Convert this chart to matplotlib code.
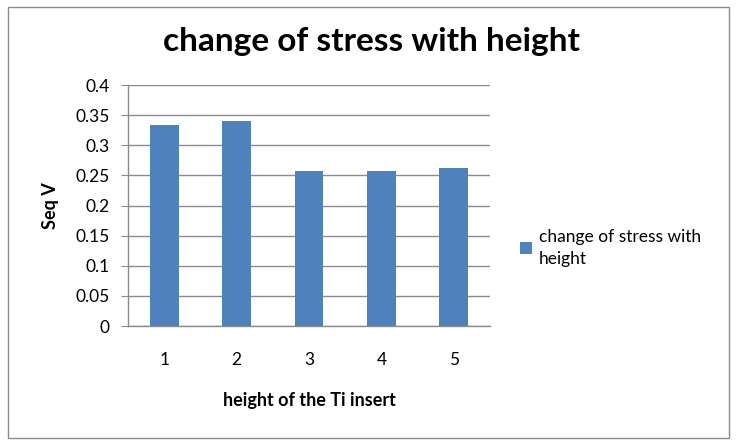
import numpy as np
import matplotlib
matplotlib.use("Agg")
import matplotlib.pyplot as plt
from matplotlib.patches import Rectangle

plt.rcParams['font.family'] = ['Lato', 'DejaVu Sans']

# data
categories = ['1', '2', '3', '4', '5']
seq_v = [0.334, 0.340, 0.258, 0.258, 0.263]
series_name = 'change of stress with height'

fig = plt.figure(figsize=(7.37, 4.44), dpi=100)
# axes placed to match the reference plot area (pixels)
ax = fig.add_axes([128 / 737, 1 - 326 / 444, (490 - 128) / 737, (326 - 85) / 444])

ind = np.arange(len(categories))
bars = ax.bar(ind, seq_v, 0.4, color='#4f81bd', zorder=3, label=series_name)

ax.set_xlim(-0.5, len(categories) - 0.5)
ax.set_ylim(0, 0.4)
ax.set_yticks(np.arange(0, 0.401, 0.05))
ax.set_yticklabels(['0', '0.05', '0.1', '0.15', '0.2', '0.25', '0.3', '0.35', '0.4'])
ax.set_xticks(ind)
ax.set_xticklabels(categories)

ax.grid(axis='y', color='#8c8c8c', linewidth=1, zorder=0)
for side in ['top', 'right']:
    ax.spines[side].set_visible(False)
for side in ['left', 'bottom']:
    ax.spines[side].set_color('#8c8c8c')
    ax.spines[side].set_linewidth(1)

ax.tick_params(axis='y', direction='out', length=5, color='#8c8c8c', labelsize=12.5, pad=8)
ax.tick_params(axis='x', length=0, labelsize=12.5, pad=19)

ax.set_xlabel('height of the Ti insert', fontsize=13, fontweight='bold', labelpad=17)
ax.set_ylabel('Seq V', fontsize=13, fontweight='bold', labelpad=12)

fig.text(371 / 737, 1 - 41 / 444, 'change of stress with height', ha='center', va='center',
         fontsize=24, fontweight='bold')

leg = fig.legend(handles=[bars], labels=['change of stress with\nheight'],
                 loc='upper left', bbox_to_anchor=(513 / 737, 1 - 222 / 444),
                 frameon=False, fontsize=12.5, handlelength=0.7, handleheight=0.7,
                 handletextpad=0.4, borderaxespad=0)
for t in leg.get_texts():
    t.set_linespacing(1.45)

# outer chart border
fig.patches.append(Rectangle((8 / 737, 6 / 444), 721 / 737, 431 / 444,
                             transform=fig.transFigure, fill=False,
                             edgecolor='#8c8c8c', linewidth=1))

fig.savefig('out.png', dpi=100)
